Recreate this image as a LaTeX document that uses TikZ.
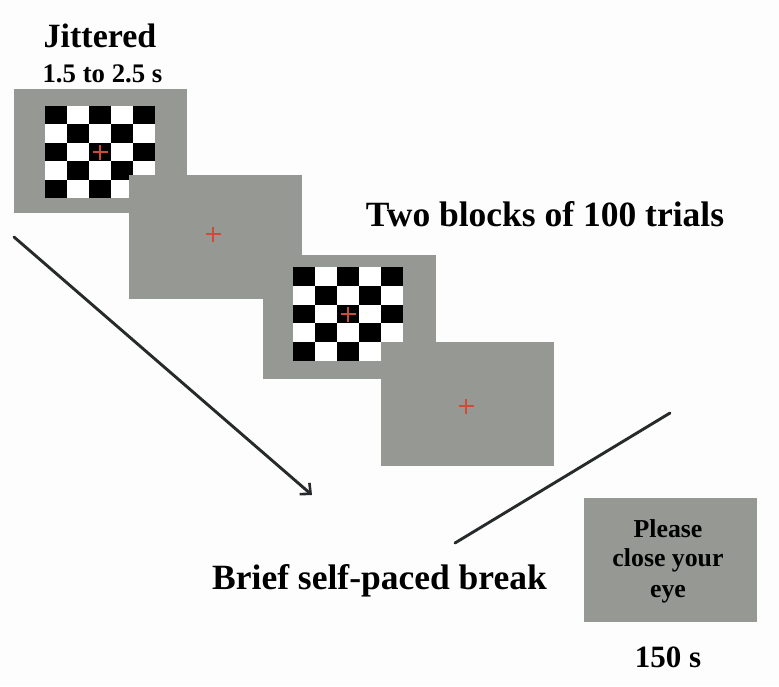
\documentclass[tikz,border=0pt]{standalone}
\usepackage{fontspec}
\setmainfont{Liberation Serif}
\usetikzlibrary{arrows.meta}
\definecolor{bg}{RGB}{253,253,254}
\definecolor{panelgray}{RGB}{150,152,148}
\definecolor{crossred}{RGB}{205,75,55}
\definecolor{linedark}{RGB}{38,42,42}
\tikzset{
  panel/.style={fill=panelgray, draw=none, inner sep=0pt, outer sep=0pt,
    minimum width=173pt, minimum height=124pt, anchor=north west},
  lbl/.style={inner sep=0pt, anchor=base, text=black},
  fixline/.style={draw=crossred, line width=2.3pt},
  conn/.style={draw=linedark, line width=2.9pt, line cap=round},
}
\newcommand{\chkgrid}[4]{% x0, y0, cell w, cell h
  \fill[white] (#1,#2) rectangle ++(5*#3,5*#4);
  \foreach \cc in {0,...,4}{\foreach \rr in {0,...,4}{%
    \pgfmathtruncatemacro\cellpar{mod(\cc+\rr,2)}%
    \ifnum\cellpar=0 \fill[black] (#1+\cc*#3,#2+\rr*#4) rectangle ++(#3,#4);\fi}}}
\newcommand{\fixcross}[2]{%
  \draw[fixline] (#1-7.5,#2) -- (#1+7.5,#2);
  \draw[fixline] (#1,#2-7.5) -- (#1,#2+7.5);}
\begin{document}
\begin{tikzpicture}[x=1pt,y=-1pt]
\fill[bg] (0,0) rectangle (779,686);
\useasboundingbox (0,0) rectangle (779,686);
% panels
\node[panel] (p1) at (14,89) {};
\chkgrid{45}{106}{22}{18.4}
\fixcross{100}{152}
\node[panel] (p2) at (129,175) {};
\fixcross{213}{234}
\node[panel] (p3) at (263,255) {};
\chkgrid{293}{267}{22}{18.8}
\fixcross{348}{314}
\node[panel] (p4) at (381,342) {};
\fixcross{466}{406}
\node[panel] (p5) at (584,498) {};
% texts
\node[lbl, font=\bfseries\fontsize{34}{36}\selectfont] (jit) at (100,47) {Jittered};
\node[lbl, font=\bfseries\fontsize{26.8}{30}\selectfont] (jtime) at (102.5,82) {1.5 to 2.5 s};
\node[lbl, font=\bfseries\fontsize{35.5}{40}\selectfont] (blocks) at (545,226) {Two blocks of 100 trials};
\node[lbl, font=\bfseries\fontsize{35.5}{40}\selectfont] (brk) at (379.5,589) {Brief self-paced break};
\node[lbl, font=\bfseries\fontsize{25.8}{30}\selectfont] (pl1) at (668,537) {Please};
\node[lbl, font=\bfseries\fontsize{25.8}{30}\selectfont] (pl2) at (668,566) {close your};
\node[lbl, font=\bfseries\fontsize{25.8}{30}\selectfont] (pl3) at (668,597) {eye};
\node[lbl, font=\bfseries\fontsize{31}{34}\selectfont] (dur) at (668,667) {150 s};
% connectors
\coordinate (a1s) at (14,237);
\coordinate (a1e) at (312,495);
\coordinate (a2s) at (455,543);
\coordinate (a2e) at (670,413);
\draw[conn, -{Straight Barb[length=8pt,width=15pt,line width=2.6pt]}] (a1s) -- (a1e);
\draw[conn] (a2s) -- (a2e);
\end{tikzpicture}
\end{document}
